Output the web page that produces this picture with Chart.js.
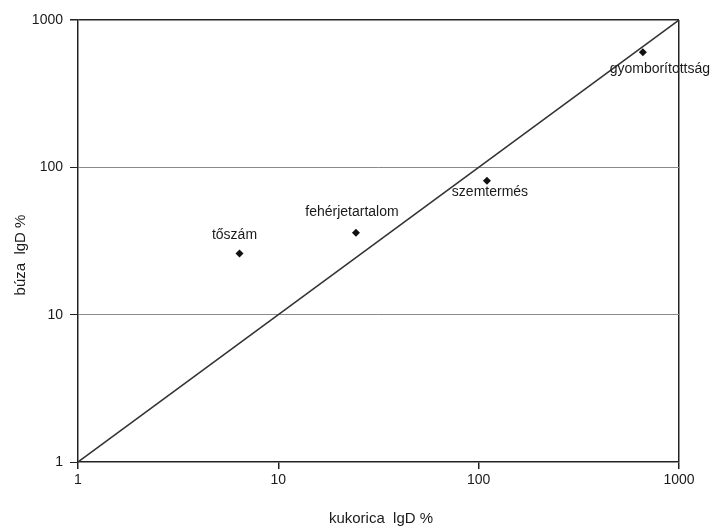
<!DOCTYPE html>
<html>
<head>
<meta charset="utf-8">
<script src="https://cdn.jsdelivr.net/npm/chart.js@4"></script>
<style>
    html, body { margin: 0; padding: 0; background: #fff; }
    canvas { display: block; }
</style>
</head>
<body>
<canvas id="lgdChart" width="714" height="530"></canvas>
<script>
// ──────────────────────────────────────
// Data
// ──────────────────────────────────────

const traits = ['tőszám', 'fehérjetartalom', 'szemtermés', 'gyomborítottság'];
const kukoricaLgD = [6.4, 24.4, 110, 660];
const buzaLgD = [26, 36, 81, 605];
const axisTicks = [1, 10, 100, 1000];
const diagonal = [1, 1000];

// where each label sits relative to its point (px)
const LABEL_OFFSETS = [[-5, -18], [-4, -21], [3, 11], [17, 17]];

const FONT = "'Liberation Sans', Arial, sans-serif";
const INK = '#1a1a1a';

const pointData = traits.map((t, i) => ({ x: kukoricaLgD[i], y: buzaLgD[i] }));
const lineData = diagonal.map(v => ({ x: v, y: v }));

// ──────────────────────────────────────
// Labels + axis titles
// ──────────────────────────────────────

const textPlugin = {
    id: 'textPlugin',
    afterDatasetsDraw(chart) {
        const { ctx, scales } = chart;
        ctx.save();
        ctx.font = '14px ' + FONT;
        ctx.fillStyle = INK;
        ctx.textAlign = 'center';
        ctx.textBaseline = 'middle';
        traits.forEach((t, i) => {
            const px = scales.x.getPixelForValue(kukoricaLgD[i]);
            const py = scales.y.getPixelForValue(buzaLgD[i]);
            ctx.fillText(t, px + LABEL_OFFSETS[i][0], py + LABEL_OFFSETS[i][1]);
        });
        ctx.restore();
    },
    afterDraw(chart) {
        const { ctx } = chart;
        ctx.save();
        ctx.font = '15px ' + FONT;
        ctx.fillStyle = INK;
        ctx.textAlign = 'center';
        ctx.textBaseline = 'middle';
        ctx.fillText('kukorica  lgD %', 381, 519);
        ctx.translate(21, 255);
        ctx.rotate(-Math.PI / 2);
        ctx.fillText('búza  lgD %', 0, 0);
        ctx.restore();
    }
};

const setTicks = scale => { scale.ticks = axisTicks.map(v => ({ value: v })); };

new Chart(document.getElementById('lgdChart'), {
    type: 'scatter',
    data: {
        datasets: [
            {
                label: 'tulajdonságok',
                data: pointData,
                pointStyle: 'rectRot',
                pointRadius: 4,
                backgroundColor: '#111',
                borderColor: '#111',
                borderWidth: 0,
                order: 0,
            },
            {
                label: 'y = x',
                data: lineData,
                showLine: true,
                borderColor: '#333',
                borderWidth: 1.5,
                pointRadius: 0,
                order: 1,
            }
        ]
    },
    options: {
        responsive: false,
        animation: false,
        layout: { padding: { top: 20, right: 35, left: 0, bottom: 0 } },
        plugins: {
            legend: { display: false },
            tooltip: { enabled: false },
        },
        scales: {
            x: {
                type: 'logarithmic',
                min: 1,
                max: 1000,
                afterBuildTicks: setTicks,
                afterFit: s => { s.height = 68; },
                border: { color: '#222', width: 1.5 },
                grid: {
                    color: c => (c.tick && c.tick.value === 1000 ? '#222' : 'rgba(0,0,0,0)'),
                    lineWidth: 1.5,
                    tickColor: '#222',
                    tickLength: 7,
                },
                ticks: {
                    font: { size: 14, family: FONT },
                    color: INK,
                    padding: 3,
                    maxRotation: 0,
                    callback: v => String(v),
                }
            },
            y: {
                type: 'logarithmic',
                min: 1,
                max: 1000,
                afterBuildTicks: setTicks,
                afterFit: s => { s.width = 78; },
                border: { color: '#222', width: 1.5 },
                grid: {
                    color: c => {
                        const v = c.tick && c.tick.value;
                        if (v === 1000) return '#222';
                        if (v === 10 || v === 100) return '#8a8a8a';
                        return 'rgba(0,0,0,0)';
                    },
                    lineWidth: c => (c.tick && c.tick.value === 1000 ? 1.5 : 1),
                    tickColor: '#222',
                    tickLength: 8,
                },
                ticks: {
                    font: { size: 14, family: FONT },
                    color: INK,
                    padding: 7,
                    callback: v => String(v),
                }
            }
        }
    },
    plugins: [textPlugin]
});
</script>
</body>
</html>
